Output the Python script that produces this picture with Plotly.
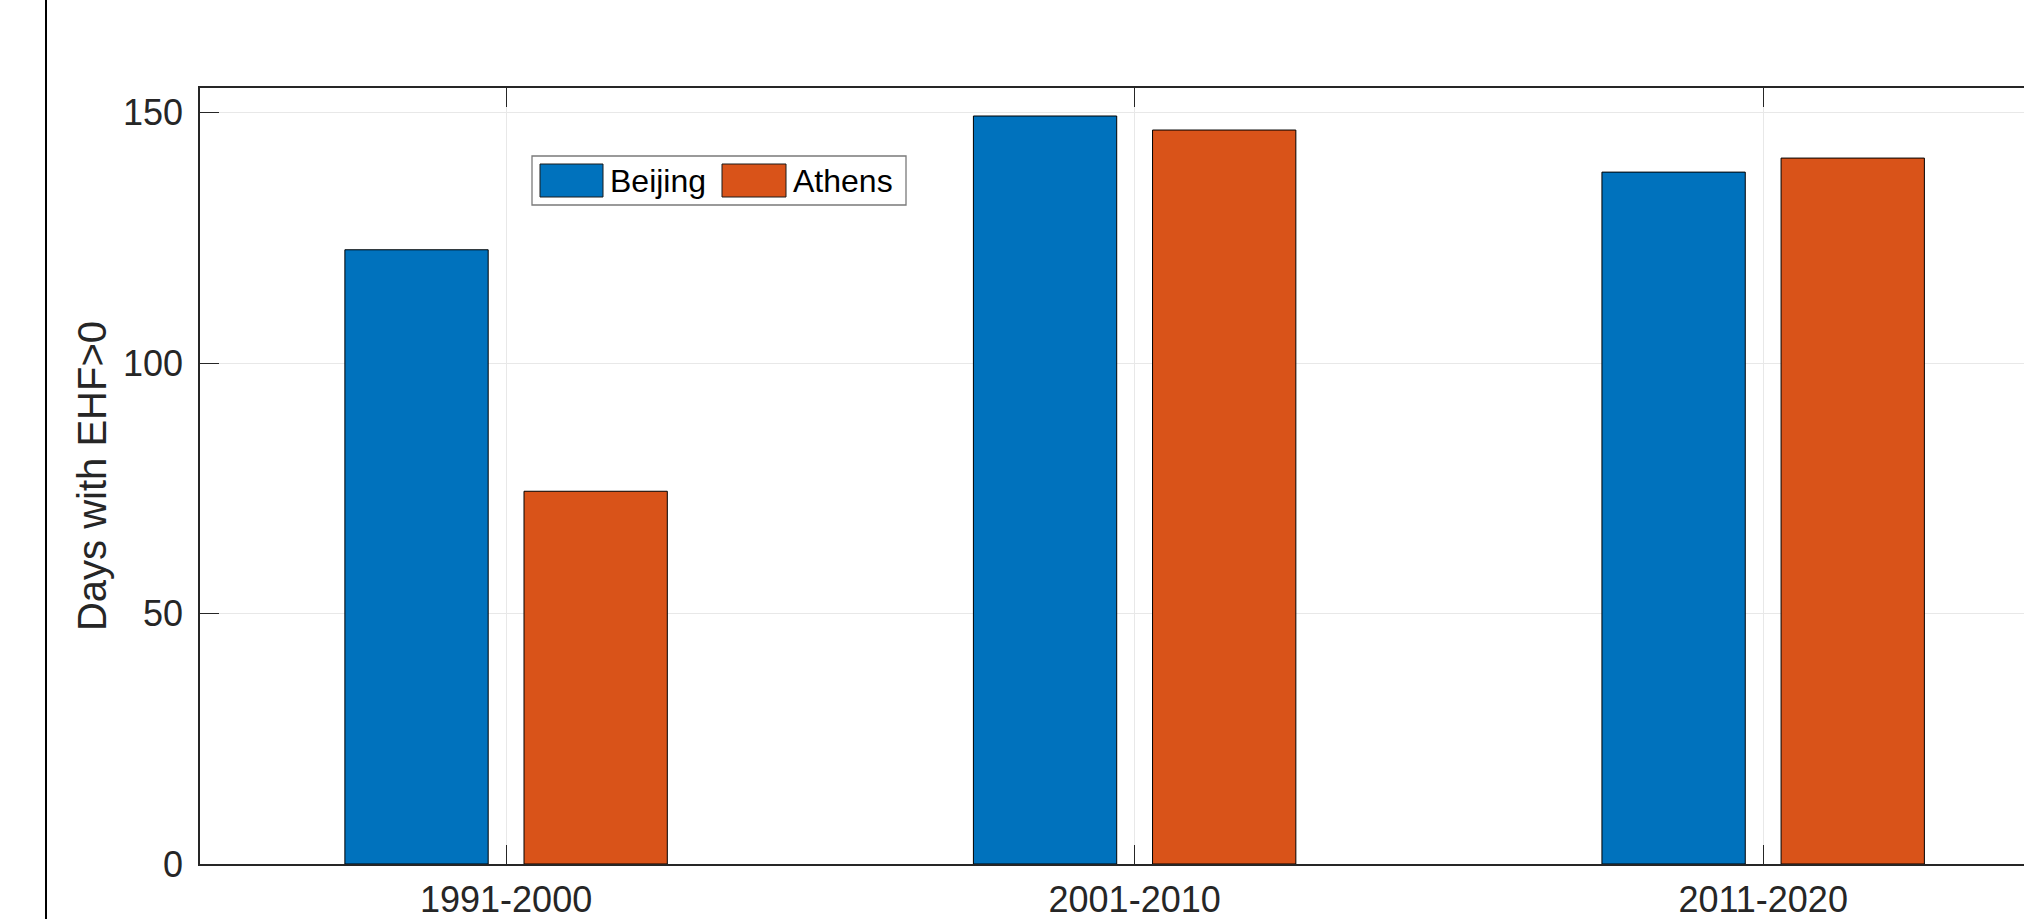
import plotly.graph_objects as go

# ---- data ----
categories = ["1991-2000", "2001-2010", "2011-2020"]
beijing = [122.6, 149.3, 138.1]
athens = [74.4, 146.5, 140.9]
series_names = ["Beijing", "Athens"]
series_colors = ["#0072BD", "#D95319"]
y_tick_vals = [0, 50, 100, 150]
y_title = "Days with EHF>0"

# ---- layout geometry (pixels) ----
W, H = 2024, 919
L, R, T, B = 200, 0, 88, 55
pw = W - L - R
ph = H - T - B


def px(x):
    return (x - L) / pw


def py(y):
    return (H - B - y) / ph


FONT = "Liberation Sans, Arial, Helvetica, sans-serif"
AX = "#262626"

fig = go.Figure()
for name, vals, col in zip(series_names, [beijing, athens], series_colors):
    fig.add_trace(go.Bar(
        x=categories, y=vals, name=name,
        marker=dict(color=col, line=dict(color="black", width=1)),
        showlegend=False,
    ))

shapes = []
# left figure border line
shapes.append(dict(type="line", xref="paper", yref="paper",
                   x0=px(46), x1=px(46), y0=py(-5), y1=py(H + 5),
                   line=dict(color="black", width=2)))
# manual legend box
shapes.append(dict(type="rect", xref="paper", yref="paper",
                   x0=px(532), x1=px(906), y0=py(205), y1=py(156),
                   line=dict(color="#7a7a7a", width=1.3), fillcolor="white"))
sw = [(540, 603), (722, 786)]
for (x0, x1), col in zip(sw, series_colors):
    shapes.append(dict(type="rect", xref="paper", yref="paper",
                       x0=px(x0), x1=px(x1), y0=py(197), y1=py(164),
                       line=dict(color="#1a1a1a", width=1), fillcolor=col))

annotations = []
for (x0, x1), name in zip(sw, series_names):
    annotations.append(dict(xref="paper", yref="paper", x=px(x1 + 5), y=py(181),
                            text=name, showarrow=False, xanchor="left", yanchor="middle",
                            font=dict(family=FONT, size=32, color="black")))

fig.update_layout(
    width=W, height=H,
    margin=dict(l=L, r=R, t=T, b=B, pad=0),
    paper_bgcolor="white", plot_bgcolor="white",
    barmode="group", bargap=0.43, bargroupgap=0.2,
    font=dict(family=FONT, color=AX),
    shapes=shapes, annotations=annotations,
    showlegend=False,
)
fig.update_xaxes(
    type="category", range=[-0.487, 2.415],
    showline=True, linecolor=AX, linewidth=1.5, mirror="allticks",
    ticks="inside", ticklen=19, tickwidth=1, tickcolor=AX,
    showgrid=True, gridcolor="#e8e8e8", gridwidth=1,
    tickfont=dict(family=FONT, size=36, color=AX),
    ticklabelstandoff=3,
    zeroline=False,
    automargin=False,
)
fig.update_yaxes(
    range=[0, ph / 5.01],
    tickvals=y_tick_vals,
    showline=True, linecolor=AX, linewidth=1.5, mirror=False,
    ticks="inside", ticklen=19, tickwidth=1, tickcolor=AX,
    showgrid=True, gridcolor="#e8e8e8", gridwidth=1,
    tickfont=dict(family=FONT, size=36, color=AX),
    ticklabelstandoff=8,
    zeroline=False,
    title=dict(text=y_title, font=dict(family=FONT, size=40, color=AX), standoff=4),
    automargin=False,
)

fig.write_html("out.html")
